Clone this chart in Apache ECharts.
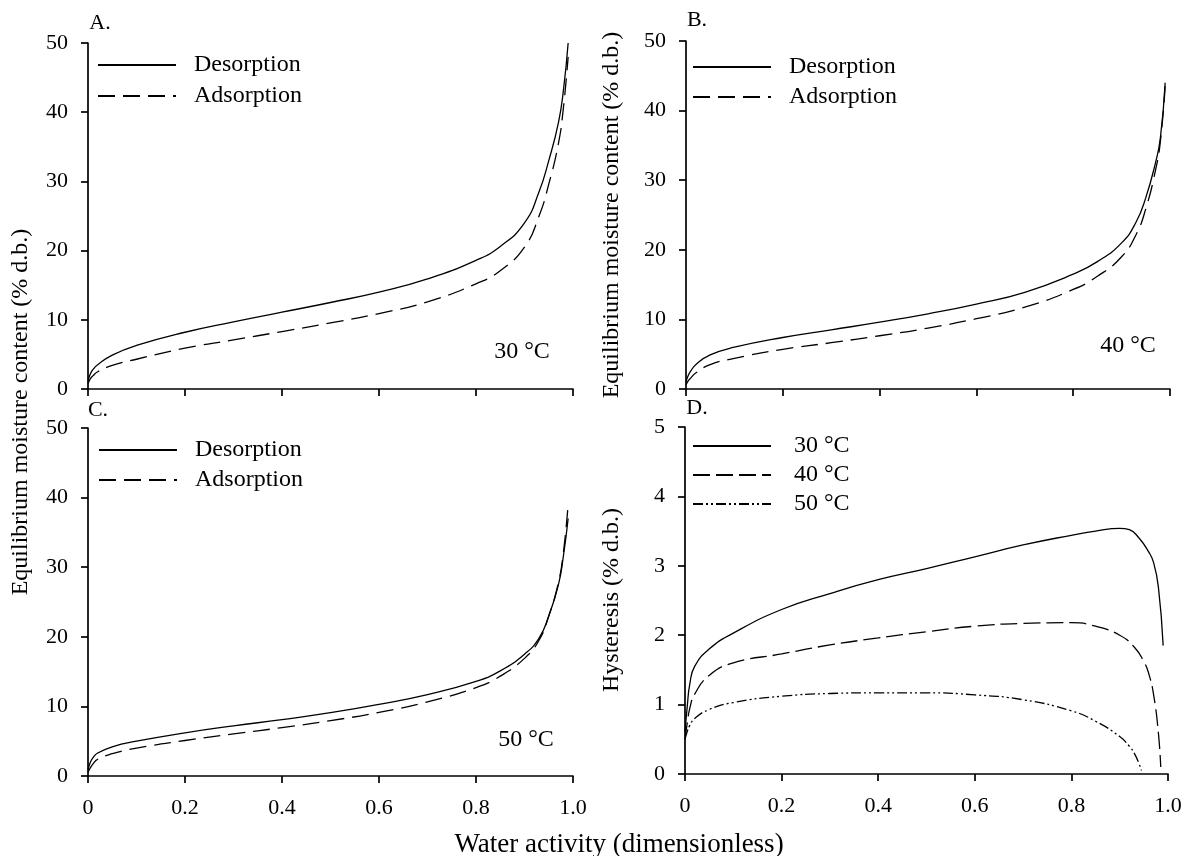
<!DOCTYPE html>
<html>
<head>
<meta charset="utf-8">
<script src="https://cdn.jsdelivr.net/npm/echarts@6/dist/echarts.min.js"></script>
<style>
  html, body { margin: 0; padding: 0; background: #fff; }
  #chart { width: 1190px; height: 856px; }
</style>
</head>
<body>
<div id="chart"></div>
<script>
// water activity grid used for the isotherm panels (A-C)
const aw = [0, 0.005, 0.01, 0.02, 0.05, 0.1, 0.2, 0.3, 0.4, 0.5, 0.6, 0.7, 0.8, 0.85, 0.9, 0.93, 0.95, 0.97, 0.98, 0.99];

// A. 30 °C
const des30 = [1.2, 2.2, 2.8, 3.5, 4.9, 6.3, 8.2, 9.7, 11.1, 12.5, 14.0, 15.9, 18.6, 20.6, 24.0, 28.5, 33.0, 38.5, 43.0, 50.0];
const ads30 = [0.8, 1.5, 1.9, 2.5, 3.4, 4.3, 5.9, 7.1, 8.3, 9.55, 10.9, 12.6, 15.2, 17.1, 20.5, 25.0, 29.6, 35.5, 40.5, 48.0];
// B. 40 °C
const des40 = [1.0, 2.0, 2.6, 3.5, 4.9, 6.0, 7.4, 8.5, 9.6, 10.8, 12.2, 13.9, 16.5, 18.3, 21.0, 24.0, 27.5, 32.5, 36.0, 44.0];
const ads40 = [0.6, 1.2, 1.6, 2.3, 3.5, 4.4, 5.7, 6.65, 7.65, 8.75, 10.1, 11.75, 14.3, 16.2, 19.0, 22.2, 25.9, 31.4, 35.5, 43.5];
// C. 50 °C
const des50 = [0.9, 2.0, 2.6, 3.3, 4.2, 5.0, 6.2, 7.2, 8.1, 9.1, 10.3, 11.7, 13.6, 15.1, 17.5, 19.8, 23.0, 27.5, 31.5, 37.0];
const ads50 = [0.5, 1.2, 1.7, 2.4, 3.2, 4.0, 5.1, 6.05, 6.95, 7.95, 9.15, 10.65, 12.7, 14.35, 16.9, 19.5, 23.0, 27.8, 32.0, 39.0];

// D. hysteresis
const h30Aw = [0, 0.005, 0.01, 0.02, 0.05, 0.1, 0.2, 0.3, 0.4, 0.5, 0.6, 0.7, 0.8, 0.85, 0.9, 0.92, 0.94, 0.96, 0.97, 0.98, 0.99];
const h30 = [0.6, 1.0, 1.3, 1.55, 1.8, 2.03, 2.37, 2.6, 2.8, 2.96, 3.13, 3.3, 3.44, 3.5, 3.54, 3.52, 3.4, 3.2, 3.05, 2.7, 1.85];
const h40Aw = [0, 0.005, 0.01, 0.02, 0.05, 0.1, 0.2, 0.3, 0.4, 0.5, 0.6, 0.7, 0.8, 0.85, 0.9, 0.93, 0.95, 0.96, 0.97, 0.98, 0.985];
const h40 = [0.5, 0.75, 0.95, 1.15, 1.42, 1.6, 1.73, 1.86, 1.96, 2.05, 2.13, 2.17, 2.18, 2.13, 2.0, 1.83, 1.62, 1.45, 1.15, 0.6, 0.1];
const h50Aw = [0, 0.005, 0.01, 0.02, 0.05, 0.1, 0.2, 0.3, 0.4, 0.5, 0.6, 0.7, 0.8, 0.85, 0.9, 0.92, 0.93, 0.94, 0.945];
const h50 = [0.5, 0.62, 0.7, 0.8, 0.93, 1.03, 1.12, 1.16, 1.17, 1.17, 1.14, 1.07, 0.91, 0.76, 0.54, 0.4, 0.3, 0.15, 0.05];

const xTickLabels = ['0', '0.2', '0.4', '0.6', '0.8', '1.0'];
const isoNames = ['Desorption', 'Adsorption'];
const tempNames = ['30 °C', '40 °C', '50 °C'];

const FONT = 'Liberation Serif';
const chart = echarts.init(document.getElementById('chart'));

const pair = (xs, ys) => ys.map((y, i) => [xs[i], y]);

const grids = [
  { left: 88, top: 43, width: 485, height: 346 },
  { left: 686, top: 41, width: 484, height: 348 },
  { left: 88, top: 428, width: 485, height: 348 },
  { left: 685, top: 427, width: 483, height: 347 }
];

const axisLine = { lineStyle: { color: '#000', width: 1.7 } };
const axisTick = { length: 7, lineStyle: { color: '#000', width: 1.7 } };

const xAxes = grids.map((g, i) => ({
  type: 'value', gridIndex: i, min: 0, max: 1, interval: 0.2,
  axisLine, axisTick, splitLine: { show: false },
  axisLabel: {
    show: i >= 2, margin: 21, color: '#000', fontFamily: FONT, fontSize: 22,
    formatter: (v, idx) => xTickLabels[idx]
  }
}));

const yAxes = grids.map((g, i) => ({
  type: 'value', gridIndex: i, min: 0, max: i === 3 ? 5 : 50, interval: i === 3 ? 1 : 10,
  axisLine: { show: true, lineStyle: axisLine.lineStyle }, axisTick: { show: true, length: 7, lineStyle: axisTick.lineStyle },
  splitLine: { show: false },
  axisLabel: { margin: 20, color: '#000', fontFamily: FONT, fontSize: 22 }
}));

const solid = { color: '#000', width: 1.3, type: 'solid' };
const dashed = { color: '#000', width: 1.3, type: [17, 8] };
const longDash = { color: '#000', width: 1.3, type: [17, 6] };
const dashDotDot = { color: '#000', width: 1.3, type: [10, 3, 2, 3, 2, 3] };

function line(name, idx, data, style) {
  return {
    name, type: 'line', xAxisIndex: idx, yAxisIndex: idx, data,
    symbol: 'none', smooth: 0.5,
    lineStyle: style, itemStyle: { color: '#000' }, silent: true
  };
}

const series = [
  line('Desorption', 0, pair(aw, des30), solid),
  line('Adsorption', 0, pair(aw, ads30), dashed),
  line('Desorption', 1, pair(aw, des40), solid),
  line('Adsorption', 1, pair(aw, ads40), dashed),
  line('Desorption', 2, pair(aw, des50), solid),
  line('Adsorption', 2, pair(aw, ads50), dashed),
  line('30 °C', 3, pair(h30Aw, h30), solid),
  line('40 °C', 3, pair(h40Aw, h40), longDash),
  line('50 °C', 3, pair(h50Aw, h50), dashDotDot)
];

function legendAt(left, top, names, gap, pad) {
  return {
    data: names, left, top, orient: 'vertical', itemWidth: 78, itemHeight: 14,
    itemGap: gap, selectedMode: false, padding: 0,
    itemStyle: { color: 'rgba(0,0,0,0)', borderWidth: 0, opacity: 0 },
    textStyle: { color: '#000', fontFamily: FONT, fontSize: 24, padding: [0, 0, 0, pad] }
  };
}

const legends = [
  legendAt(97, 53, isoNames, 7, 13),
  legendAt(692, 55, isoNames, 6, 13),
  legendAt(98, 438, isoNames, 6, 13),
  legendAt(692, 434, tempNames, 5, 18)
];

function txt(x, y, text, size, rot) {
  return {
    type: 'text', x, y, rotation: rot || 0,
    style: { text, fill: '#000', font: size + 'px "' + FONT + '"', textAlign: 'center', textVerticalAlign: 'middle' }
  };
}

const graphic = [
  txt(100, 23, 'A.', 22),
  txt(697, 20, 'B.', 22),
  txt(98, 410, 'C.', 22),
  txt(697, 408, 'D.', 22),
  txt(522, 352, '30 °C', 24),
  txt(1128, 346, '40 °C', 24),
  txt(526, 740, '50 °C', 24),
  txt(21, 412, 'Equilibrium moisture content (% d.b.)', 24, Math.PI / 2),
  txt(612, 215, 'Equilibrium moisture content (% d.b.)', 24, Math.PI / 2),
  txt(612, 600, 'Hysteresis (% d.b.)', 24, Math.PI / 2),
  txt(619, 845, 'Water activity (dimensionless)', 27)
];

chart.setOption({
  backgroundColor: '#fff',
  animation: false,
  grid: grids,
  xAxis: xAxes,
  yAxis: yAxes,
  legend: legends,
  series,
  graphic
});
</script>
</body>
</html>
